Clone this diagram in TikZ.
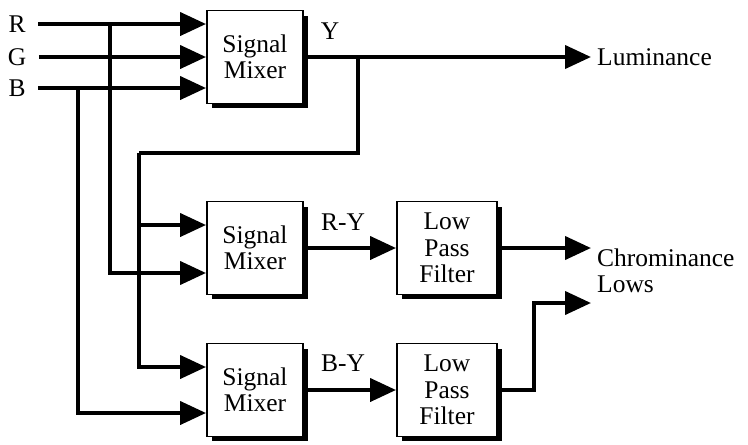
\documentclass[tikz,border=0pt]{standalone}
\usepackage{fontspec}
\setmainfont{Liberation Serif}
\usetikzlibrary{arrows.meta,positioning,shadows}

\begin{document}
\begin{tikzpicture}[
  x=0.02cm, y=-0.02cm,
  font=\fontsize{14.5}{15}\selectfont,
  block/.style={draw, line width=1.1pt, fill=white, minimum width=1.92cm, minimum height=1.86cm, align=center, inner sep=2pt,
    drop shadow={shadow xshift=0.1cm, shadow yshift=-0.1cm, fill=black, opacity=1}},
  src/.style={inner xsep=7pt, inner ysep=1pt},
  sig/.style={line width=2.3pt},
  feed/.style={sig, -{Triangle[length=0.52cm, width=0.46cm]}}
]
\useasboundingbox (0,0) rectangle (748,444);

% Inputs
\node[src] (r) at (17,24) {R};
\node[src] (g) at (17,57) {G};
\node[src] (b) at (17,88) {B};

% Mixers and filters
\node[block] (mix1) at (255,57) {Signal\\Mixer};
\node[block] (mix2) at (255,248) {Signal\\Mixer};
\node[block] (mix3) at (255,390) {Signal\\Mixer};
\node[block, minimum width=2cm] (lpf1) at (447,248) {Low\\Pass\\Filter};
\node[block, minimum width=2cm] (lpf2) at (447,390) {Low\\Pass\\Filter};

% Outputs
\node[anchor=west] (lum) at (591,57) {Luminance};
\node[anchor=west, align=left] (chroma) at (591,271) {Chrominance\\Lows};
\node (ylab) at (330,31) {Y};
\node (rylab) at (343,222) {R-Y};
\node (bylab) at (343,363) {B-Y};

% Junctions
\coordinate (rb) at (110,24);
\coordinate (bb) at (78,88);
\coordinate (yb) at (358,57);
\coordinate (yl) at (139,153);
\coordinate (m2a) at ([yshift=0.46cm]mix2.west);
\coordinate (m2b) at ([yshift=-0.5cm]mix2.west);
\coordinate (m3a) at ([yshift=0.46cm]mix3.west);
\coordinate (m3b) at ([yshift=-0.46cm]mix3.west);
\coordinate (lowsin) at (591,303);

% RGB into first mixer
\draw[feed] (r.east) -- (r.east -| mix1.west);
\draw[feed] (g.east) -- (g.east -| mix1.west);
\draw[feed] (b.east) -- (b.east -| mix1.west);

% Branches
\draw[feed] (rb) |- (m2b);
\draw[feed] (bb) |- (m3b);
\draw[sig] (yb) |- (yl);
\draw[feed] (yl) |- (m3a);
\draw[feed] (yl |- m2a) -- (m2a);

% Outputs
\draw[feed] (mix1.east) -- (lum.west);
\draw[feed] (mix2) -- (lpf1);
\draw[feed] (mix3) -- (lpf2);
\draw[feed] (lpf1.east) -- (lpf1.east -| chroma.west);
\draw[feed] (lpf2.east) -- ++(36,0) |- (lowsin);
\end{tikzpicture}
\end{document}
